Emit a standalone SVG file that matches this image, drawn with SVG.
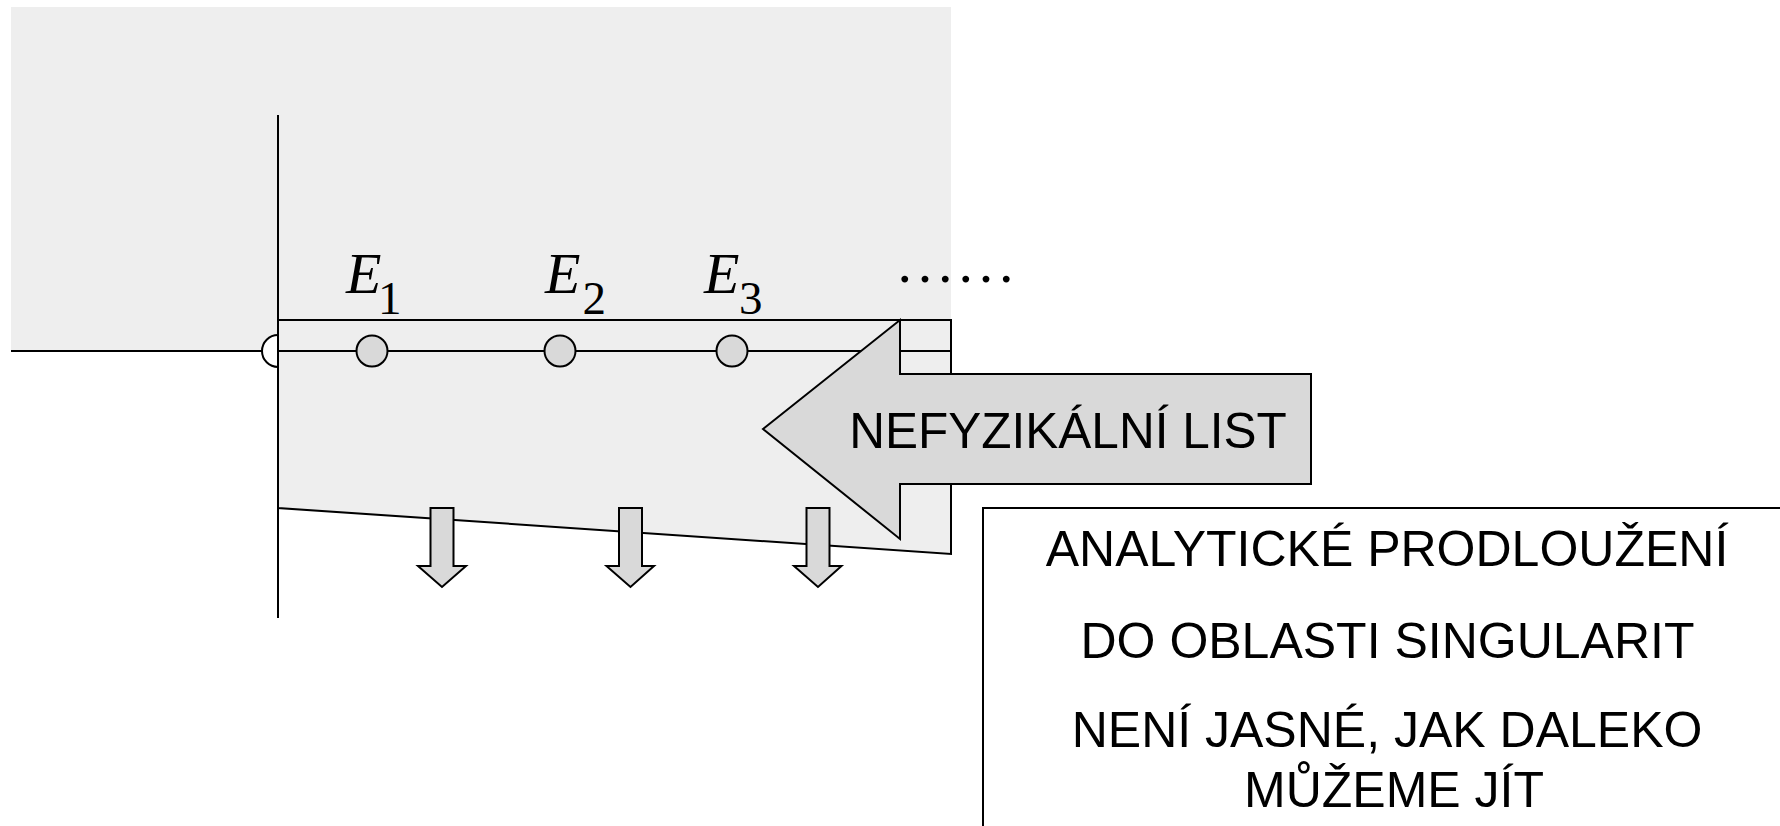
<svg xmlns="http://www.w3.org/2000/svg" width="1780" height="826" viewBox="0 0 1780 826">
  <defs>
    <style>
      .ln { stroke: #000; stroke-width: 2; fill: none; }
      .bg { fill: #EEEEEE; stroke: none; }
      .band { fill: #EEEEEE; stroke: #000; stroke-width: 2; }
      .arrow { fill: #D9D9D9; stroke: #000; stroke-width: 2; stroke-linejoin: miter; }
      .pole { fill: #D9D9D9; stroke: #000; stroke-width: 2; }
      .sans { font-family: "Liberation Sans", Arial, sans-serif; fill: #000; }
      .serif { font-family: "Liberation Serif", "Times New Roman", serif; fill: #000; }
    </style>
  </defs>

  <!-- shaded upper half-plane -->
  <rect class="bg" x="11" y="7" width="940" height="344"/>

  <!-- sheet: strip above the real axis plus the region below it -->
  <g id="sheet">
    <path class="band" d="M278 320 L951 320 L951 554 L278 508 Z"/>
  </g>

  <!-- axes and the threshold half-circle -->
  <g id="axes">
    <line class="ln" x1="11" y1="351" x2="951" y2="351"/>
    <path d="M278 335 A16 16 0 0 0 278 367" fill="#FFFFFF" stroke="#000" stroke-width="2"/>
    <line class="ln" x1="278" y1="115" x2="278" y2="618"/>
  </g>

  <!-- bound-state poles -->
  <g id="pole-E1"><ellipse class="pole" cx="372" cy="351" rx="15.5" ry="15.5"/></g>
  <g id="pole-E2"><ellipse class="pole" cx="560" cy="351" rx="15.5" ry="15.5"/></g>
  <g id="pole-E3"><ellipse class="pole" cx="732" cy="351" rx="15.5" ry="15.5"/></g>

  <!-- pole labels -->
  <g id="labels">
    <text class="serif" font-style="italic" font-size="58" x="346" y="293">E</text>
    <text class="serif" font-size="47" x="378" y="314">1</text>
    <text class="serif" font-style="italic" font-size="58" x="545" y="293">E</text>
    <text class="serif" font-size="47" x="582.5" y="314">2</text>
    <text class="serif" font-style="italic" font-size="58" x="704" y="293">E</text>
    <text class="serif" font-size="47" x="739" y="314">3</text>
    <text class="serif" font-size="58" x="897.5" y="282" letter-spacing="5.8">......</text>
  </g>

  <!-- downward arrows into the lower half-plane -->
  <g id="connectors">
    <path class="arrow" d="M430.5 508 H453.5 V566 H466 L442 587 L418 566 H430.5 Z"/>
    <path class="arrow" d="M619 508 H642 V566 H654 L630.5 587 L606.5 566 H619 Z"/>
    <path class="arrow" d="M806.5 508 H829.5 V566 H841.5 L818 587 L794 566 H806.5 Z"/>
  </g>

  <!-- big left-pointing arrow -->
  <g id="unphysical-sheet">
    <path class="arrow" d="M763 429 L900 320 L900 374 L1311 374 L1311 484 L900 484 L900 539 Z"/>
    <text class="sans" font-size="49.5" x="1068" y="448" text-anchor="middle">NEFYZIKÁLNÍ LIST</text>
  </g>

  <!-- note box -->
  <g id="note">
    <rect x="983" y="508" width="830" height="340" fill="#FFFFFF" stroke="#000" stroke-width="2"/>
    <text class="sans" font-size="50" text-anchor="middle">
      <tspan x="1394" y="566">ANALYTICKÉ PRODLOUŽENÍ</tspan>
      <tspan x="1394" y="658">DO OBLASTI SINGULARIT</tspan>
      <tspan x="1394" y="747">NENÍ JASNÉ, JAK DALEKO</tspan>
      <tspan x="1394" y="807">MŮŽEME JÍT</tspan>
    </text>
  </g>
</svg>
